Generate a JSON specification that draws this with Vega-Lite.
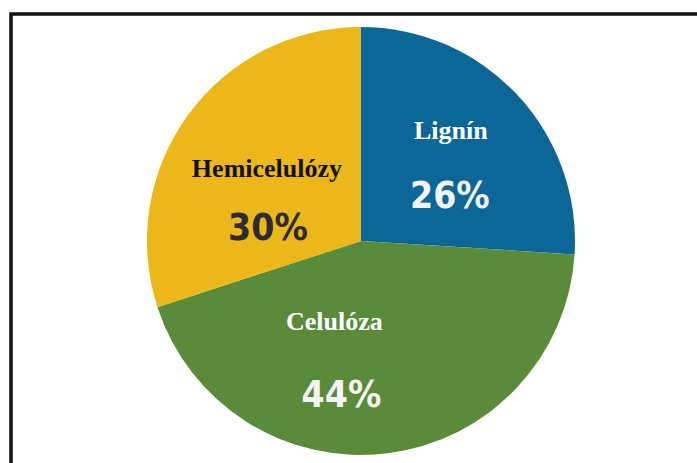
{
  "$schema": "https://vega.github.io/schema/vega-lite/v6.json",
  "width": 700,
  "height": 454,
  "autosize": {"type": "none"},
  "padding": {"left": 11, "top": 14, "right": 0, "bottom": 0},
  "background": "white",
  "view": {"stroke": "#111111", "strokeWidth": 3.5, "fill": "white"},
  "config": {"view": {"stroke": "#111111", "strokeWidth": 3.5}},
  "data": {
    "values": [
      {"name": "Lignín", "value": 0.26, "rank": 1},
      {"name": "Celulóza", "value": 0.44, "rank": 2},
      {"name": "Hemicelulózy", "value": 0.30, "rank": 3}
    ]
  },
  "encoding": {
    "theta": {"field": "value", "type": "quantitative", "stack": true},
    "order": {"field": "rank", "type": "quantitative"}
  },
  "layer": [
    {
      "mark": {"type": "arc", "outerRadius": 214},
      "encoding": {
        "color": {
          "field": "name",
          "type": "nominal",
          "scale": {"domain": ["Lignín", "Celulóza", "Hemicelulózy"], "range": ["#0d6698", "#5a8b3b", "#ebb719"]},
          "legend": null
        }
      }
    },
    {
      "mark": {
        "type": "text",
        "radius": 115,
        "font": "Liberation Serif",
        "fontWeight": "bold",
        "fontSize": 26,
        "baseline": "middle",
        "align": "center",
        "fill": {"expr": "datum.name === 'Hemicelulózy' ? '#111111' : '#ffffff'"},
        "dx": {"expr": "datum.name === 'Celulóza' ? -41 : (datum.name === 'Lignín' ? 6 : -1)"},
        "dy": {"expr": "datum.name === 'Hemicelulózy' ? -4 : (datum.name === 'Lignín' ? -31 : -33)"}
      },
      "encoding": {"text": {"field": "name", "type": "nominal"}}
    },
    {
      "mark": {
        "type": "text",
        "radius": 115,
        "font": "Liberation Sans Narrow, DejaVu Sans Condensed, sans-serif",
        "fontWeight": "bold",
        "fontSize": 37,
        "baseline": "middle",
        "align": "center",
        "fill": {"expr": "datum.name === 'Hemicelulózy' ? '#2b2b3b' : '#f4f4f4'"},
        "dx": {"expr": "datum.name === 'Celulóza' ? -34 : (datum.name === 'Lignín' ? 5 : 0)"},
        "dy": {"expr": "datum.name === 'Hemicelulózy' ? 56 : (datum.name === 'Lignín' ? 35 : 41)"}
      },
      "encoding": {"text": {"field": "value", "type": "quantitative", "format": ".0%"}}
    }
  ]
}
